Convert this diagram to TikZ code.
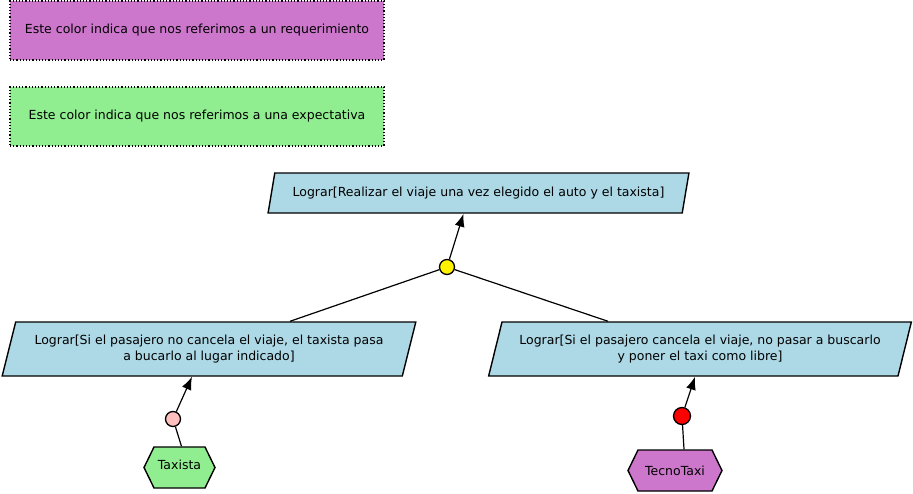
\documentclass[tikz,border=0pt]{standalone}
\usepackage{fontspec}
\setmainfont{DejaVu Sans}
\usetikzlibrary{shapes.geometric,shapes.symbols,arrows.meta}
\definecolor{reqcolor}{RGB}{204,119,204}
\definecolor{expcolor}{RGB}{144,238,144}
\definecolor{goalcolor}{RGB}{173,216,230}
\tikzset{
  leyenda/.style={draw,dotted,line width=1.2pt,minimum width=374pt,minimum height=59pt},
  objetivo/.style={trapezium,trapezium left angle=69,trapezium right angle=111,
    trapezium stretches=true,draw,line width=1.4pt,fill=goalcolor,align=center,inner sep=2pt},
  agente/.style={signal,signal to=east and west,signal pointer angle=128,draw,line width=1.4pt,
    minimum height=41pt,inner sep=2pt},
  enlace/.style={circle,draw,line width=1.3pt,inner sep=0pt},
  flecha/.style={line width=1.2pt,-{Latex[length=13pt,width=10pt]}},
  linea/.style={line width=1.2pt}
}
\begin{document}
\begin{tikzpicture}[x=1pt,y=-1pt,font=\fontsize{12.5}{16}\selectfont]
  \useasboundingbox (0,0) rectangle (913,493);
  % leyenda
  \node[leyenda,fill=reqcolor] (leyreq) at (197,30.5) {Este color indica que nos referimos a un requerimiento};
  \node[leyenda,fill=expcolor] (leyexp) at (197,116.5) {Este color indica que nos referimos a una expectativa};
  % objetivos
  \node[objetivo,minimum width=423pt,minimum height=40pt] (viaje) at (478.5,193)
    {Lograr[Realizar el viaje una vez elegido el auto y el taxista]};
  \node[objetivo,minimum width=415pt,minimum height=54pt] (nocancela) at (209,349)
    {Lograr[Si el pasajero no cancela el viaje, el taxista pasa\\a bucarlo al lugar indicado]};
  \node[objetivo,minimum width=423pt,minimum height=54pt] (cancela) at (700,349)
    {Lograr[Si el pasajero cancela el viaje, no pasar a buscarlo\\y poner el taxi como libre]};
  % enlaces
  \node[enlace,fill=yellow,minimum size=15pt] (yy) at (447,267) {};
  \node[enlace,fill=pink,minimum size=15pt] (rosa) at (173,419) {};
  \node[enlace,fill=red,minimum size=17pt] (rojo) at (682,416) {};
  % agentes
  \node[agente,fill=expcolor,minimum width=71pt] (taxista) at (179.5,467.5) {\raisebox{6pt}{Taxista}};
  \node[agente,fill=reqcolor,minimum width=94pt] (tecno) at (675,470.5) {TecnoTaxi};
  % conexiones
  \draw[flecha] (yy) -- ([xshift=-15pt]viaje.south);
  \draw[linea] ([xshift=81pt]nocancela.north) -- (yy);
  \draw[linea] ([xshift=-92pt]cancela.north) -- (yy);
  \draw[flecha] (rosa) -- ([xshift=-17pt]nocancela.south);
  \draw[linea] ([xshift=2pt]taxista.north) -- (rosa);
  \draw[flecha] (rojo) -- ([xshift=-5pt]cancela.south);
  \draw[linea] ([xshift=9pt]tecno.north) -- (rojo);
\end{tikzpicture}
\end{document}
